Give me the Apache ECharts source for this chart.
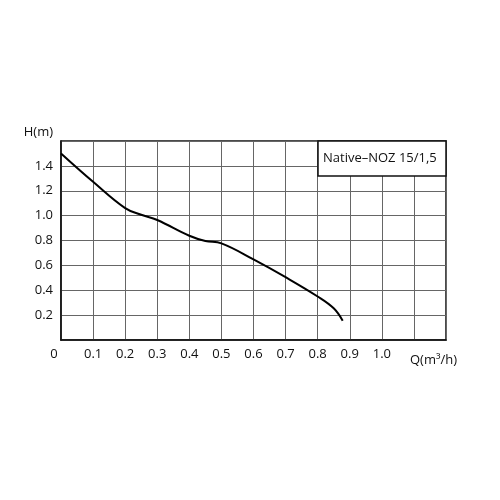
<!DOCTYPE html>
<html>
<head>
<meta charset="utf-8">
<script src="https://cdn.jsdelivr.net/npm/echarts@6/dist/echarts.min.js"></script>
<style>html,body{margin:0;padding:0;background:#fff}#c{width:500px;height:500px}</style>
</head>
<body>
<div id="c"></div>
<script>
var flowQ = [0, 0.1, 0.2, 0.25, 0.3, 0.4, 0.45, 0.5, 0.6, 0.7, 0.8, 0.85, 0.878];
var headH = [1.50, 1.272, 1.06, 1.007, 0.965, 0.838, 0.796, 0.777, 0.648, 0.505, 0.35, 0.255, 0.155];
var seriesName = 'Native–NOZ 15/1,5';
var xName = 'Q(m³/h)';
var yName = 'H(m)';

var font = 'Open Sans';
var chart = echarts.init(document.getElementById('c'));
chart.setOption({
  animation: false,
  backgroundColor: '#fff',
  title: {
    text: seriesName,
    left: 318, top: 141,
    padding: [11, 9, 11, 5],
    backgroundColor: '#fff',
    borderColor: '#111', borderWidth: 1.5,
    textStyle: {fontFamily: font, fontSize: 13, fontWeight: 'normal', color: '#111'}
  },
  grid: {left: 61, right: 54, top: 141, bottom: 160, show: true, borderColor: '#111', borderWidth: 1.5},
  xAxis: {
    type: 'value', min: 0, max: 1.2, interval: 0.1,
    name: xName, nameLocation: 'end', nameGap: -36,
    nameTextStyle: {fontFamily: font, fontSize: 13, color: '#111', align: 'left', verticalAlign: 'top', padding: [14, 0, 0, 0]},
    axisLine: {show: true, lineStyle: {color: '#111', width: 1.5}},
    axisTick: {show: false},
    splitLine: {show: true, lineStyle: {color: '#666', width: 1}},
    axisLabel: {
      fontFamily: font, fontSize: 13, color: '#111', margin: 8,
      formatter: function (v) {
        if (v > 1.05) return '';
        if (v === 0) return '{z|0}';
        return v.toFixed(1);
      },
      rich: {z: {fontFamily: font, fontSize: 13, color: '#111', padding: [0, 14, 0, 0]}}
    }
  },
  yAxis: {
    type: 'value', min: 0, max: 1.6, interval: 0.2,
    name: yName, nameLocation: 'end', nameGap: 2,
    nameTextStyle: {fontFamily: font, fontSize: 13, color: '#111', align: 'right', verticalAlign: 'bottom', padding: [0, 8, 0, 0]},
    axisLine: {show: true, lineStyle: {color: '#111', width: 1.5}},
    axisTick: {show: false},
    splitLine: {show: true, lineStyle: {color: '#666', width: 1}},
    axisLabel: {
      fontFamily: font, fontSize: 13, color: '#111', margin: 8,
      showMinLabel: false, showMaxLabel: false,
      formatter: function (v) { return v.toFixed(1); }
    }
  },
  series: [{
    name: seriesName,
    type: 'line', smooth: 0.4, showSymbol: false,
    lineStyle: {color: '#000', width: 2},
    data: flowQ.map(function (q, i) { return [q, headH[i]]; })
  }]
});
</script>
</body>
</html>
